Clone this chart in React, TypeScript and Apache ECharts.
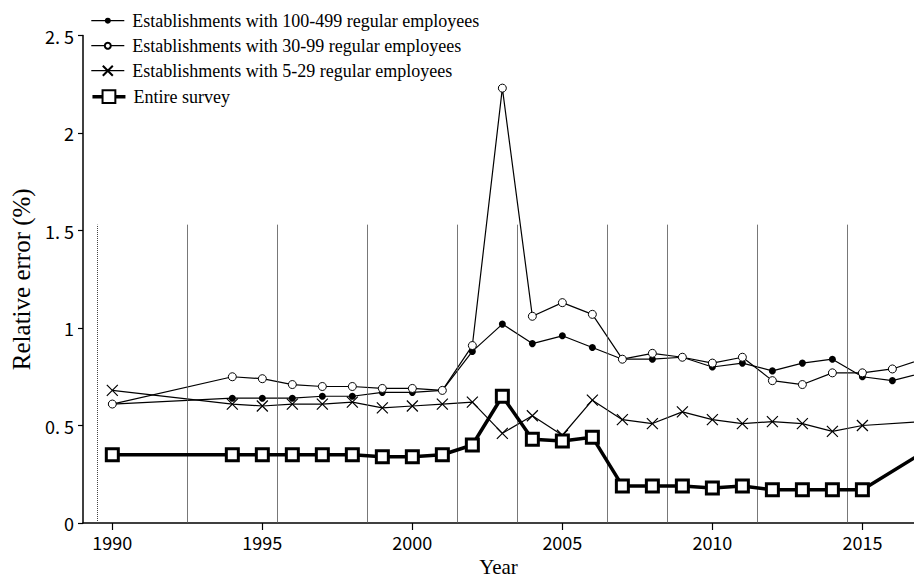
import React, { useEffect, useRef } from "react";
import * as echarts from "echarts";

const years = [1990, 1994, 1995, 1996, 1997, 1998, 1999, 2000, 2001, 2002, 2003, 2004, 2005, 2006, 2007, 2008, 2009, 2010, 2011, 2012, 2013, 2014, 2015, 2016, 2017];

const est100to499 = [0.61, 0.64, 0.64, 0.64, 0.65, 0.65, 0.67, 0.67, 0.68, 0.88, 1.02, 0.92, 0.96, 0.90, 0.84, 0.84, 0.85, 0.80, 0.82, 0.78, 0.82, 0.84, 0.75, 0.73, 0.77];
const est30to99 = [0.61, 0.75, 0.74, 0.71, 0.70, 0.70, 0.69, 0.69, 0.68, 0.91, 2.23, 1.06, 1.13, 1.07, 0.84, 0.87, 0.85, 0.82, 0.85, 0.73, 0.71, 0.77, 0.77, 0.79, 0.84];
const est5to29 = [0.68, 0.61, 0.60, 0.61, 0.61, 0.62, 0.59, 0.60, 0.61, 0.62, 0.46, 0.55, 0.45, 0.63, 0.53, 0.51, 0.57, 0.53, 0.51, 0.52, 0.51, 0.47, 0.50, null, 0.52];
const entireSurvey = [0.35, 0.35, 0.35, 0.35, 0.35, 0.35, 0.34, 0.34, 0.35, 0.40, 0.65, 0.43, 0.42, 0.44, 0.19, 0.19, 0.19, 0.18, 0.19, 0.17, 0.17, 0.17, 0.17, null, 0.36];

const seriesNames = [
  "Establishments with 100-499 regular employees",
  "Establishments with 30-99 regular employees",
  "Establishments with 5-29 regular employees",
  "Entire survey",
];

const xTickYears = [1990, 1995, 2000, 2005, 2010, 2015];
const yTickValues = [0, 0.5, 1, 1.5, 2, 2.5];
const yTickLabels = ["0", "0. 5", "1", "1. 5", "2", "2. 5"];

// Survey revision boundaries (vertical lines)
const dottedBreak = [1989.5];
const solidBreaks = [1992.5, 1995.5, 1998.5, 2001.5, 2003.5, 2006.5, 2008.5, 2011.5, 2014.5];
const breakTop = 1.53;

const pairs = (vals: (number | null)[]) => years.map((y, i) => [y, vals[i]]);

const SERIF = "'Liberation Serif', 'Times New Roman', serif";
const SANS = "'Noto Sans CJK JP', 'Noto Sans', sans-serif";

export default function App() {
  const ref = useRef<HTMLDivElement>(null);
  useEffect(() => {
    if (!ref.current) return;
    const chart = echarts.init(ref.current, null, { renderer: "svg" });
    const markLines = [
      ...dottedBreak.map((x) => [
        { coord: [x, 0], lineStyle: { type: "dotted", color: "#444", width: 1 } },
        { coord: [x, breakTop] },
      ]),
      ...solidBreaks.map((x) => [
        { coord: [x, 0], lineStyle: { type: "solid", color: "#555", width: 0.8 } },
        { coord: [x, breakTop] },
      ]),
    ];
    const common = {
      type: "line",
      connectNulls: true,
      clip: true,
      showAllSymbol: true,
    };
    // one legend per row so each can carry its own symbol size
    const rowCenters = [20.7, 45.7, 70.7, 96.7];
    const iconHeights = [7.5, 7.5, 12.5, 16];
    const lineWidths = [1.2, 1.2, 1.2, 3.5];
    const legends = seriesNames.map((name, i) => ({
      data: [{ name, lineStyle: { width: lineWidths[i], color: "#000" } }],
      orient: "vertical",
      left: 90.7,
      top: rowCenters[i] - 10,
      padding: 0,
      itemWidth: 33,
      itemHeight: iconHeights[i],
      textStyle: { fontFamily: SERIF, fontSize: 18, lineHeight: 20, color: "#000", padding: [0, 0, 0, 3] },
    }));
    chart.setOption({
      animation: false,
      backgroundColor: "#fff",
      grid: { left: 83, right: 0, top: 35.5, bottom: 56, containLabel: false, outerBoundsMode: "none" },
      legend: legends,
      xAxis: {
        type: "value",
        min: 1989.023,
        max: 2016.72,
        name: "Year",
        nameLocation: "middle",
        nameGap: 33,
        nameTextStyle: { fontFamily: SERIF, fontSize: 21, color: "#000" },
        axisLine: { lineStyle: { color: "#000", width: 1.5 } },
        axisTick: { show: true, length: 7, customValues: xTickYears, lineStyle: { color: "#000", width: 1.2 } },
        axisLabel: {
          customValues: xTickYears,
          fontFamily: SANS,
          fontSize: 18,
          color: "#000",
          margin: 10,
          formatter: (v: number) => String(Math.round(v)),
        },
        splitLine: { show: false },
      },
      yAxis: {
        type: "value",
        min: 0,
        max: 2.5,
        interval: 0.5,
        name: "Relative error (%)",
        nameLocation: "middle",
        nameGap: 48,
        nameTextStyle: { fontFamily: SERIF, fontSize: 25, color: "#000" },
        axisLine: { show: true, lineStyle: { color: "#000", width: 1.5 } },
        axisTick: { show: true, length: 5, lineStyle: { color: "#000", width: 1.2 } },
        axisLabel: {
          fontFamily: SANS,
          fontSize: 18,
          color: "#000",
          margin: 9,
          formatter: (v: number) => {
            const i = yTickValues.findIndex((t) => Math.abs(t - v) < 1e-6);
            return i >= 0 ? yTickLabels[i] : String(v);
          },
        },
        splitLine: { show: false },
      },
      series: [
        {
          ...common,
          name: seriesNames[0],
          data: pairs(est100to499),
          symbol: "circle",
          symbolSize: 7,
          itemStyle: { color: "#000" },
          lineStyle: { color: "#000", width: 1.2 },
          z: 2,
          markLine: {
            silent: true,
            symbol: ["none", "none"],
            label: { show: false },
            data: markLines,
          },
        },
        {
          ...common,
          name: seriesNames[2],
          data: pairs(est5to29),
          symbol: "path://M0,0L10,10M0,10L10,0",
          symbolSize: 11,
          itemStyle: { color: "none", borderColor: "#000", borderWidth: 1.2 },
          lineStyle: { color: "#000", width: 1.2 },
          z: 3,
        },
        {
          ...common,
          name: seriesNames[1],
          data: pairs(est30to99),
          symbol: "circle",
          symbolSize: 8,
          itemStyle: { color: "#fff", borderColor: "#000", borderWidth: 1 },
          lineStyle: { color: "#000", width: 1.2 },
          z: 4,
        },
        {
          ...common,
          name: seriesNames[3],
          data: pairs(entireSurvey),
          symbol: "rect",
          symbolSize: 12,
          itemStyle: { color: "#fff", borderColor: "#000", borderWidth: 3 },
          lineStyle: { color: "#000", width: 3.5 },
          z: 5,
        },
      ],
    });
    return () => chart.dispose();
  }, []);
  return (
    <div
      ref={ref}
      style={{ position: "absolute", left: 0, top: 0, width: 914, height: 579 }}
    />
  );
}
